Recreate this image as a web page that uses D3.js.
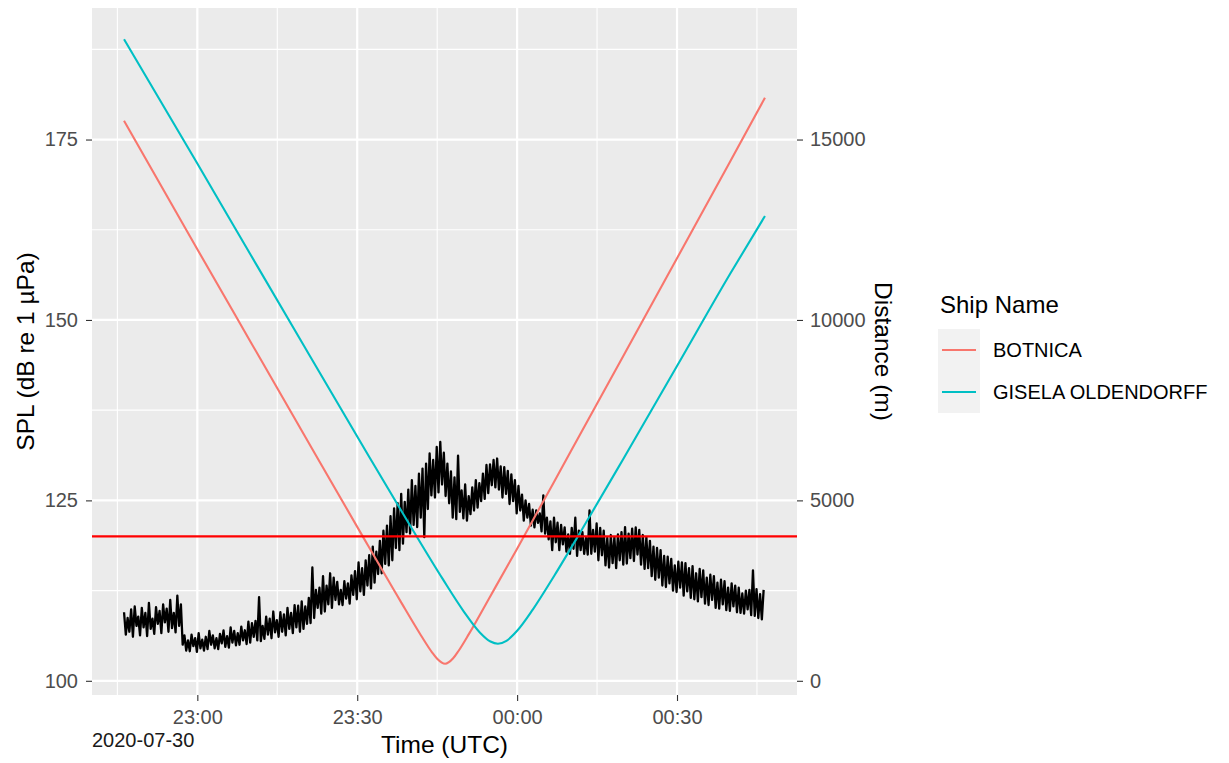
<!DOCTYPE html>
<html><head><meta charset="utf-8">
<script src="https://cdn.jsdelivr.net/npm/d3@7"></script>
<style>
body{margin:0;background:#fff;}
text{font-family:"Liberation Sans",Arial,sans-serif;}
</style></head>
<body><svg id="chart" width="1229" height="763"></svg>
<script>
// ---------------- DATA ----------------
const splStart = "2020-07-30T22:46:15Z";
const splStepSeconds = 20;
const splValues = [
109.5,106.4,108.7,106.8,109.9,106.1,110.3,107.6,108.9,106.3,
110.1,107.4,109.4,106.2,110.8,107.2,108.6,106.5,110.2,107.9,
109.7,106.6,110.6,108.1,110.0,106.8,111.2,107.3,109.4,106.7,111.8,107.6,
110.6,
105.0,106.3,104.2,105.6,104.1,106.4,104.8,105.9,104.0,106.6,
104.5,105.7,104.2,106.1,104.4,106.9,105.0,106.3,104.5,105.9,
104.4,106.5,105.2,107.0,104.7,106.2,104.6,107.4,105.3,106.9,
104.9,106.6,105.0,107.5,105.6,107.0,105.1,108.2,
105.3,108.0,106.1,108.3,105.6,111.6,105.5,107.6,105.8,108.9,
106.4,108.6,105.9,109.6,106.7,108.4,106.1,109.5,106.8,109.2,
106.3,110.1,107.2,109.4,106.6,110.5,107.4,110.4,106.8,111.0,
107.2,110.3,107.9,111.5,108.0,
115.7,108.7,112.6,110.1,112.9,109.3,114.5,109.6,113.2,110.6,
114.9,110.1,114.3,111.2,113.7,110.6,112.6,110.5,113.8,111.4,
113.5,110.7,114.6,111.9,115.2,111.3,116.4,112.4,115.6,111.9,
116.7,113.2,117.4,112.8,118.6,113.6,117.9,114.8,119.4,114.9,
120.8,116.2,121.5,116.0,122.8,
116.7,123.9,118.4,124.6,118.1,125.9,119.0,124.8,120.6,126.5,
120.4,127.8,121.6,127.0,121.3,128.7,122.6,129.4,
119.9,130.1,123.8,131.5,125.7,130.6,125.4,132.4,126.1,133.1,
127.2,131.6,125.6,130.1,124.6,129.0,122.6,
128.2,122.4,131.2,123.4,126.4,122.5,127.2,122.2,125.6,123.1,
126.8,123.6,127.8,124.0,127.4,124.9,128.7,125.2,129.9,126.0,
130.0,127.1,130.6,126.8,130.8,126.5,129.7,125.4,129.6,125.9,
129.1,124.5,128.6,124.9,127.8,123.2,127.0,123.6,125.8,122.2,
125.0,122.6,124.5,121.5,123.7,121.25,123.6,121.9,123.2,120.7,
125.7,120.4,122.6,119.6,122.1,118.1,122.6,119.2,121.9,118.1,
121.6,118.9,121.25,117.9,120.3,117.6,121.2,118.3,122.6,117.3,
120.8,118.1,120.6,117.6,119.8,117.5,123.6,117.6,120.9,117.9,
121.8,116.7,121.2,117.4,120.8,116.0,119.8,115.7,120.2,116.3,
119.9,115.6,120.3,116.7,120.6,116.1,121.3,116.25,120.4,117.0,
121.1,116.6,121.25,117.5,120.9,116.1,120.2,115.5,119.9,115.6,
119.4,114.5,118.6,114.0,118.4,114.3,118.1,113.2,117.3,113.0,
117.2,113.5,116.9,112.5,116.0,112.3,116.5,112.9,116.4,111.8,
116.3,112.4,115.6,111.5,115.9,111.3,114.9,111.0,115.5,111.6,
115.3,110.7,114.3,110.5,114.7,111.2,114.5,110.1,113.6,110.0,
114.0,110.6,113.8,109.8,112.9,109.7,113.5,110.3,113.2,109.5,
112.9,109.4,112.1,109.3,112.5,109.9,112.6,109.1,115.3,109.0,
112.7,108.7,112.0,108.5,112.6
];

const botnicaTimes = ["2020-07-30T22:46:15Z","2020-07-30T23:00:00Z","2020-07-30T23:10:00Z","2020-07-30T23:20:00Z","2020-07-30T23:30:00Z","2020-07-30T23:38:00Z","2020-07-30T23:42:00Z","2020-07-30T23:44:00Z","2020-07-30T23:45:00Z","2020-07-30T23:46:30Z","2020-07-30T23:48:00Z","2020-07-30T23:49:00Z","2020-07-30T23:51:00Z","2020-07-30T23:55:00Z","2020-07-31T00:00:00Z","2020-07-31T00:10:00Z","2020-07-31T00:20:00Z","2020-07-31T00:30:00Z","2020-07-31T00:40:00Z","2020-07-31T00:46:30Z"];
const botnicaDist = [15520,11960,9392,6826,4266,2235,1250,797,610,472,623,826,1308,2352,3662,6340,9024,11710,14400,16160];

const giselaTimes = ["2020-07-30T22:46:15Z","2020-07-30T23:00:00Z","2020-07-30T23:10:00Z","2020-07-30T23:20:00Z","2020-07-30T23:30:00Z","2020-07-30T23:40:00Z","2020-07-30T23:46:00Z","2020-07-30T23:50:00Z","2020-07-30T23:53:00Z","2020-07-30T23:55:00Z","2020-07-30T23:56:24Z","2020-07-30T23:58:00Z","2020-07-31T00:00:00Z","2020-07-31T00:03:00Z","2020-07-31T00:07:00Z","2020-07-31T00:12:00Z","2020-07-31T00:20:00Z","2020-07-31T00:30:00Z","2020-07-31T00:40:00Z","2020-07-31T00:46:30Z"];
const giselaDist = [17780,14334,11807,9284,6771,4282,2830,1920,1341,1088,1028,1108,1385,1988,2920,4151,6170,8723,11287,12880];

const shipNames = ["BOTNICA","GISELA OLDENDORFF"];
const shipColors = ["#F8766D","#00BFC4"];
const thresholdSPL = 120;
const distPerDb = 200; // secondary axis: distance = (SPL - 100) * 200

const xTickTimes = ["2020-07-30T23:00:00Z","2020-07-30T23:30:00Z","2020-07-31T00:00:00Z","2020-07-31T00:30:00Z"];
const xMinorTimes = ["2020-07-30T22:45:00Z","2020-07-30T23:15:00Z","2020-07-30T23:45:00Z","2020-07-31T00:15:00Z","2020-07-31T00:45:00Z"];
const yTicks = [100,125,150,175];
const yMinor = [112.5,137.5,162.5,187.5];
const yRightTicks = [0,5000,10000,15000];
const dateLabel = "2020-07-30";

// ---------------- CHART ----------------
const svg = d3.select("#chart");
const P = {left:92, right:797, top:8, bottom:695};

const t0 = new Date(splStart).getTime();
const spl = splValues.map((v,i)=>({t:new Date(t0 + i*splStepSeconds*1000), v}));
const ships = [
  {name:shipNames[0], color:shipColors[0], pts: botnicaTimes.map((t,i)=>({t:new Date(t), d:botnicaDist[i]}))},
  {name:shipNames[1], color:shipColors[1], pts: giselaTimes.map((t,i)=>({t:new Date(t), d:giselaDist[i]}))}
];
const d2s = d => 100 + d/distPerDb;

const allT = spl.map(d=>d.t).concat(...ships.map(s=>s.pts.map(p=>p.t)));
const allY = spl.map(d=>d.v).concat(...ships.map(s=>s.pts.map(p=>d2s(p.d))), [thresholdSPL]);
const [tmin,tmax] = d3.extent(allT);
const [ymin,ymax] = d3.extent(allY);
const tex = (tmax-tmin)*0.05, yex = (ymax-ymin)*0.05;

const x = d3.scaleUtc().domain([new Date(+tmin - tex), new Date(+tmax + tex)]).range([P.left,P.right]);
const y = d3.scaleLinear().domain([ymin-yex, ymax+yex]).range([P.bottom,P.top]);
const yR = d3.scaleLinear().domain(y.domain().map(v=>(v-100)*distPerDb)).range([P.bottom,P.top]);

// panel
svg.append("rect").attr("x",P.left).attr("y",P.top).attr("width",P.right-P.left).attr("height",P.bottom-P.top).attr("fill","#EBEBEB");
const grid = svg.append("g");
xMinorTimes.map(s=>new Date(s)).forEach(t=>grid.append("line").attr("x1",x(t)).attr("x2",x(t)).attr("y1",P.top).attr("y2",P.bottom).attr("stroke","#fff").attr("stroke-width",1.1));
yMinor.forEach(v=>grid.append("line").attr("x1",P.left).attr("x2",P.right).attr("y1",y(v)).attr("y2",y(v)).attr("stroke","#fff").attr("stroke-width",1.1));
xTickTimes.map(s=>new Date(s)).forEach(t=>grid.append("line").attr("x1",x(t)).attr("x2",x(t)).attr("y1",P.top).attr("y2",P.bottom).attr("stroke","#fff").attr("stroke-width",2.2));
yTicks.forEach(v=>grid.append("line").attr("x1",P.left).attr("x2",P.right).attr("y1",y(v)).attr("y2",y(v)).attr("stroke","#fff").attr("stroke-width",2.2));

// SPL line
svg.append("path").datum(spl).attr("fill","none").attr("stroke","#000").attr("stroke-width",2.3).attr("stroke-linejoin","round")
  .attr("d", d3.line().x(d=>x(d.t)).y(d=>y(d.v)));

// ship distance lines
ships.forEach(s=>{
  svg.append("path").datum(s.pts).attr("fill","none").attr("stroke",s.color).attr("stroke-width",2.1)
    .attr("d", d3.line().curve(d3.curveMonotoneX).x(p=>x(p.t)).y(p=>yR(p.d)));
});

// threshold
svg.append("line").attr("x1",P.left).attr("x2",P.right).attr("y1",y(thresholdSPL)).attr("y2",y(thresholdSPL)).attr("stroke","#FF0000").attr("stroke-width",2.2);

// axes
function styleAxis(g){
  g.select(".domain").remove();
  g.selectAll(".tick line").attr("stroke","#333").attr("stroke-width",1.1);
  g.selectAll(".tick text").attr("fill","#4D4D4D").attr("font-size","20px").attr("font-family","Liberation Sans, Arial, sans-serif");
}
svg.append("g").attr("transform",`translate(${P.left},0)`)
  .call(d3.axisLeft(y).tickValues(yTicks).tickSize(6).tickPadding(8)).call(styleAxis);
svg.append("g").attr("transform",`translate(${P.right},0)`)
  .call(d3.axisRight(yR).tickValues(yRightTicks).tickSize(6).tickPadding(7).tickFormat(d3.format("d"))).call(styleAxis);
svg.append("g").attr("transform",`translate(0,${P.bottom})`)
  .call(d3.axisBottom(x).tickValues(xTickTimes.map(s=>new Date(s))).tickSize(6).tickPadding(9).tickFormat(d3.utcFormat("%H:%M"))).call(styleAxis);

// titles
svg.append("text").attr("x",P.left).attr("y",747).attr("font-size","20px").attr("fill","#1a1a1a").text(dateLabel);
svg.append("text").attr("x",(P.left+P.right)/2).attr("y",753).attr("text-anchor","middle").attr("font-size","24.5px").attr("fill","#000").text("Time (UTC)");
svg.append("text").attr("transform",`translate(34,${(P.top+P.bottom)/2}) rotate(-90)`).attr("text-anchor","middle").attr("font-size","24.5px").attr("fill","#000").text("SPL (dB re 1 µPa)");
svg.append("text").attr("transform",`translate(875,${(P.top+P.bottom)/2}) rotate(90)`).attr("text-anchor","middle").attr("font-size","24.5px").attr("fill","#000").text("Distance (m)");

// legend
const lg = svg.append("g");
lg.append("text").attr("x",940).attr("y",313).attr("font-size","24px").attr("fill","#000").text("Ship Name");
ships.forEach((s,i)=>{
  const cy = 350 + i*42;
  lg.append("rect").attr("x",938).attr("y",cy-21).attr("width",42).attr("height",42).attr("fill","#F2F2F2");
  lg.append("line").attr("x1",942).attr("x2",976).attr("y1",cy).attr("y2",cy).attr("stroke",s.color).attr("stroke-width",2.1);
  lg.append("text").attr("x",993).attr("y",cy).attr("dy","0.36em").attr("font-size","20px").attr("fill","#000").text(s.name);
});
</script>
</body></html>
